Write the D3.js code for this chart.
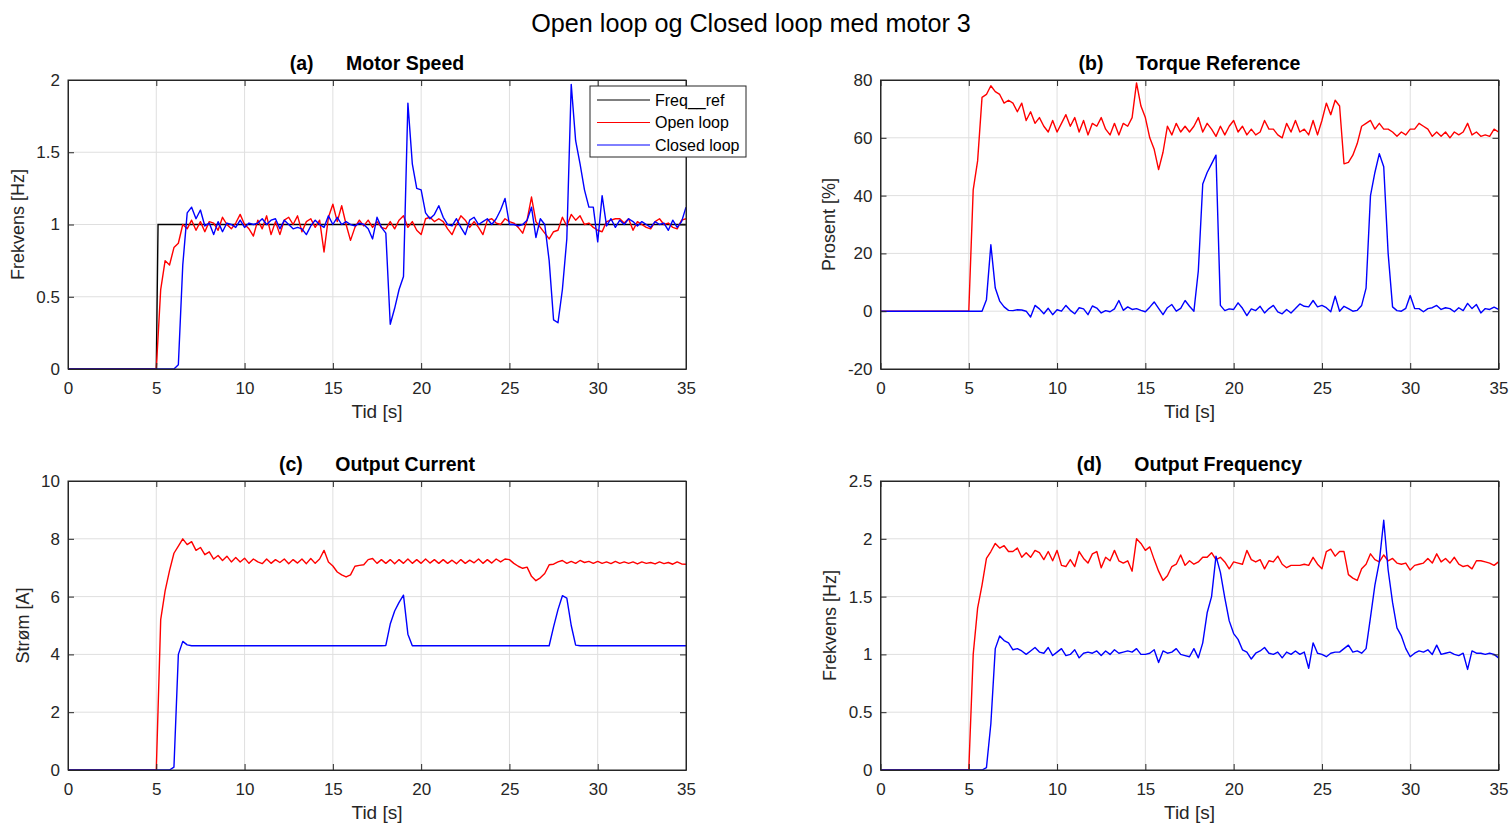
<!DOCTYPE html>
<html>
<head>
<meta charset="utf-8">
<script src="https://cdn.jsdelivr.net/npm/d3@7"></script>
<style>
body { margin: 0; background: #fff; }
text { font-family: "Liberation Sans", Arial, sans-serif; }
</style>
</head>
<body>
<div id="main"></div>
<script>
const Width = 1509, Height = 826;

// sample time, 0.25 s steps from 0 to 35 s
const time = d3.range(141).map(i => i * 0.25);
const xTicks = [0, 5, 10, 15, 20, 25, 30, 35];

// (a) Motor speed
const refTime = [0, 5, 5.1, 35];
const refA = [0, 0, 1, 1];
const openA = [
  0,0,0,0,0,0,0,0,0,0,0,0,0,0,0,0,0,0,0,0,
  0,0.55,0.75,0.72,0.84,0.87,1.0,0.97,1.03,0.96,1.02,0.95,1.02,1.01,0.96,1.05,1.0,0.97,1.01,1.07,
  1.0,0.97,0.92,1.03,0.97,1.06,0.93,1.02,0.93,1.03,1.05,1.0,1.06,0.95,1.02,1.04,0.98,1.03,0.81,1.05,
  1.14,1.02,1.13,1.0,0.89,0.98,1.03,0.99,1.03,0.98,1.02,0.98,0.97,1.02,0.97,1.03,1.06,0.98,1.02,0.96,
  0.93,1.04,1.05,1.02,1.04,1.02,0.97,0.93,1.0,1.06,1.03,0.98,1.02,0.98,0.93,1.03,1.04,1.01,1.0,1.04,
  1.02,1.01,0.98,0.94,1.03,1.19,1.02,0.98,0.94,0.9,0.95,0.96,1.05,0.99,1.07,1.03,1.06,1.0,1.01,0.98,
  0.96,0.95,1.02,1.03,1.04,1.04,1.01,1.04,0.96,1.02,1.0,0.98,0.97,1.02,1.04,1.0,1.01,0.98,0.97,1.03,1.04
];
const closedA = [
  0,0,0,0,0,0,0,0,0,0,0,0,0,0,0,0,0,0,0,0,
  0,0,0,0,0,0.03,0.72,1.08,1.12,1.04,1.1,0.99,1.01,0.93,1.02,0.95,1.01,1.0,0.98,1.03,
  0.98,1.01,1.0,1.01,1.04,1.0,1.03,1.04,0.97,1.03,1.0,0.97,0.98,0.97,0.93,0.99,1.03,1.0,0.98,1.06,
  1.0,1.05,1.0,1.02,1.0,0.99,1.01,1.0,0.97,0.9,1.05,0.98,0.94,0.31,0.42,0.55,0.64,1.84,1.42,1.25,
  1.24,1.08,1.04,1.07,1.13,1.05,1.0,0.99,1.04,0.98,0.93,1.03,1.05,1.0,1.02,1.04,1.0,1.04,1.1,1.18,
  1.0,1.0,0.99,1.0,1.03,1.12,0.91,1.04,1.0,0.75,0.34,0.32,0.55,0.9,1.97,1.58,1.42,1.24,1.12,1.12,
  0.88,1.2,0.99,1.04,0.98,1.03,1.0,1.04,1.02,0.99,1.02,1.0,0.98,1.02,1.0,1.01,0.96,1.03,0.98,1.02,1.12
];

// (b) Torque reference
const openB = [
  0,0,0,0,0,0,0,0,0,0,0,0,0,0,0,0,0,0,0,0,
  0,42,52,74,75,78,76,75,72,73,72,69,72,66,69,65,67,64,62,66,
  62,65,68,64,67,62,66,61,65,64,67,63,61,65,61,65,64,67,79,71,
  67,60,56,49,55,64,61,65,62,64,62,64,67,62,65,63,60.5,64,61,64,
  66,62,64,61,63,61,62,66,63,63,61,60,65,62,66,62,63,61,66,61,
  66,72,68,73,71,51,51.5,54,58,64,65,66,63,65,63,63,62,60.5,62,61,
  63,63,65,64,63,60.5,62,60.5,62,60,62,61,62,65,61,62,60.5,61,60.5,63,62
];
const closedB = [
  0,0,0,0,0,0,0,0,0,0,0,0,0,0,0,0,0,0,0,0,
  0,0,0,0,4,23,8,3.5,1.5,0.3,0.2,0.5,0.4,0,-2,2,0.8,-0.9,1,-1.2,
  0.5,0,2,0.3,-0.9,1.2,0.8,-1.2,1.8,1.1,-0.6,0.2,-0.2,0.8,3.7,0.3,1.5,0.6,0.9,0.3,
  -0.2,1.4,3.2,1,-1.2,1.2,2.3,0,1,3.7,1.7,0,14,44,48,51,54,2,0.2,0.8,
  0.6,2.9,1,-1.5,0.8,0.2,1.7,-0.6,0.9,2,-0.2,-0.9,0.6,-0.6,0.9,2.5,1.7,1.5,3.7,1.5,
  2,1.2,-0.2,5.2,0,1.7,0.9,0,0.3,2,8,40,48,54.5,50,20,1.5,0.2,0,1,
  5.4,0.9,0.9,-0.2,0.9,1.2,2,0.6,1.2,0.9,-0.2,1.2,0.2,2.7,0.9,2.3,-0.6,0.9,0.6,1.4,0.6
];

// (c) Output current
const openC = [
  0,0,0,0,0,0,0,0,0,0,0,0,0,0,0,0,0,0,0,0,
  0,5.2,6.2,6.9,7.5,7.75,8.0,7.8,7.9,7.6,7.7,7.45,7.55,7.3,7.42,7.25,7.4,7.2,7.35,7.2,
  7.33,7.15,7.3,7.2,7.14,7.3,7.15,7.28,7.18,7.3,7.14,7.28,7.16,7.3,7.14,7.32,7.15,7.3,7.6,7.2,
  7.06,6.85,6.75,6.68,6.75,7.05,7.08,7.1,7.28,7.32,7.15,7.28,7.15,7.28,7.14,7.28,7.15,7.3,7.15,7.28,
  7.15,7.3,7.16,7.28,7.15,7.28,7.15,7.26,7.14,7.28,7.15,7.26,7.17,7.3,7.15,7.28,7.16,7.3,7.2,7.3,
  7.28,7.15,7.05,6.98,7.02,6.7,6.55,6.65,6.8,7.1,7.12,7.2,7.25,7.15,7.22,7.15,7.25,7.18,7.22,7.15,
  7.22,7.15,7.2,7.14,7.22,7.15,7.2,7.15,7.2,7.13,7.2,7.15,7.18,7.13,7.2,7.14,7.18,7.12,7.2,7.13,7.12
];
const closedC = [
  0,0,0,0,0,0,0,0,0,0,0,0,0,0,0,0,0,0,0,0,
  0,0,0,0,0.1,4.0,4.45,4.33,4.3,4.3,4.3,4.3,4.3,4.3,4.3,4.3,4.3,4.3,4.3,4.3,
  4.3,4.3,4.3,4.3,4.3,4.3,4.3,4.3,4.3,4.3,4.3,4.3,4.3,4.3,4.3,4.3,4.3,4.3,4.3,4.3,
  4.3,4.3,4.3,4.3,4.3,4.3,4.3,4.3,4.3,4.3,4.3,4.3,4.31,5.05,5.5,5.8,6.05,4.7,4.3,4.3,
  4.3,4.3,4.3,4.3,4.3,4.3,4.3,4.3,4.3,4.3,4.3,4.3,4.3,4.3,4.3,4.3,4.3,4.3,4.3,4.3,
  4.3,4.3,4.3,4.3,4.3,4.3,4.3,4.3,4.3,4.3,4.95,5.55,6.03,5.95,5.0,4.32,4.3,4.3,4.3,4.3,
  4.3,4.3,4.3,4.3,4.3,4.3,4.3,4.3,4.3,4.3,4.3,4.3,4.3,4.3,4.3,4.3,4.3,4.3,4.3,4.3,4.3
];

// (d) Output frequency
const openD = [
  0,0,0,0,0,0,0,0,0,0,0,0,0,0,0,0,0,0,0,0,
  0,1.0,1.4,1.6,1.83,1.89,1.96,1.92,1.94,1.89,1.89,1.92,1.84,1.88,1.84,1.9,1.88,1.82,1.89,1.81,
  1.9,1.77,1.76,1.82,1.76,1.89,1.83,1.79,1.87,1.89,1.75,1.84,1.81,1.9,1.81,1.79,1.81,1.72,2.0,1.96,
  1.9,1.93,1.82,1.72,1.64,1.68,1.76,1.78,1.86,1.77,1.81,1.78,1.8,1.84,1.84,1.88,1.82,1.84,1.8,1.74,
  1.8,1.79,1.78,1.9,1.82,1.8,1.82,1.74,1.81,1.8,1.85,1.78,1.75,1.77,1.77,1.77,1.78,1.77,1.84,1.78,
  1.74,1.89,1.91,1.85,1.89,1.89,1.69,1.66,1.64,1.74,1.78,1.87,1.82,1.8,1.86,1.81,1.83,1.79,1.78,1.79,
  1.73,1.77,1.78,1.79,1.83,1.79,1.87,1.8,1.83,1.79,1.84,1.78,1.76,1.77,1.74,1.81,1.81,1.8,1.79,1.77,1.8
];
const closedD = [
  0,0,0,0,0,0,0,0,0,0,0,0,0,0,0,0,0,0,0,0,
  0,0,0,0,0.02,0.4,1.05,1.16,1.12,1.1,1.04,1.05,1.03,1.0,1.03,1.06,1.02,1.01,1.06,0.99,
  1.02,1.05,0.99,1.0,1.04,0.97,1.01,1.02,1.01,1.03,0.99,1.03,1.0,1.04,1.01,1.02,1.03,1.02,1.05,1.0,
  1.0,1.01,1.04,0.93,1.03,1.01,1.02,1.05,1.0,0.99,0.98,1.05,0.97,1.1,1.36,1.5,1.85,1.71,1.49,1.29,
  1.18,1.13,1.04,1.02,0.96,1.01,1.03,1.06,1.01,1.0,1.02,0.97,1.02,1.0,1.03,1.0,1.02,0.88,1.1,1.01,
  1.0,0.98,1.01,1.02,1.02,1.05,1.08,1.02,1.03,1.01,1.05,1.32,1.6,1.8,2.16,1.73,1.45,1.23,1.16,1.05,
  0.98,1.01,1.03,1.02,1.04,1.0,1.08,1.0,1.01,1.02,1.0,0.99,1.01,0.87,1.03,1.01,1.01,1.0,1.01,1.0,0.97
];

const legendNames = ["Freq__ref", "Open loop", "Closed loop"];
const colors = {ref: "#000000", open: "#ff0000", closed: "#0000ff"};

const panels = [
  {tag: "(a)", name: "Motor Speed", ylabel: "Frekvens [Hz]", left: 68, top: 80, ydom: [0, 2],
   yticks: [0, 0.5, 1, 1.5, 2], open: openA, closed: closedA, ref: refA, labelX: 18},
  {tag: "(b)", name: "Torque Reference", ylabel: "Prosent [%]", left: 880.5, top: 80, ydom: [-20, 80],
   yticks: [-20, 0, 20, 40, 60, 80], open: openB, closed: closedB, labelX: 829},
  {tag: "(c)", name: "Output Current", ylabel: "Strøm [A]", left: 68, top: 481, ydom: [0, 10],
   yticks: [0, 2, 4, 6, 8, 10], open: openC, closed: closedC, labelX: 23},
  {tag: "(d)", name: "Output Frequency", ylabel: "Frekvens [Hz]", left: 880.5, top: 481, ydom: [0, 2.5],
   yticks: [0, 0.5, 1, 1.5, 2, 2.5], open: openD, closed: closedD, labelX: 830}
];
const plotW = 618, plotH = 289;
const axisColor = "#262626", gridColor = "#dfdfdf";

const svg = d3.select("#main")
    .append("svg")
    .attr("width", Width)
    .attr("height", Height)
;

svg.append("text")
    .attr("x", 751).attr("y", 32)
    .attr("text-anchor", "middle")
    .attr("font-size", 25.2)
    .text("Open loop og Closed loop med motor 3");

function drawPanel(p, i) {
    const g = svg.append("g").attr("transform", `translate(${p.left},${p.top})`);
    const x = d3.scaleLinear().domain([0, 35]).range([0, plotW]);
    const y = d3.scaleLinear().domain(p.ydom).range([plotH, 0]);

    // grid
    g.append("g").selectAll("line").data(xTicks.slice(1, -1)).enter().append("line")
        .attr("x1", d => x(d)).attr("x2", d => x(d)).attr("y1", 0).attr("y2", plotH)
        .attr("stroke", gridColor).attr("stroke-width", 1);
    g.append("g").selectAll("line").data(p.yticks.slice(1, -1)).enter().append("line")
        .attr("x1", 0).attr("x2", plotW).attr("y1", d => y(d)).attr("y2", d => y(d))
        .attr("stroke", gridColor).attr("stroke-width", 1);

    g.append("clipPath").attr("id", "clip" + i)
        .append("rect").attr("width", plotW).attr("height", plotH);

    const line = d3.line().x(d => x(d[0])).y(d => y(d[1]));
    const lines = g.append("g").attr("clip-path", `url(#clip${i})`);
    if (p.ref) {
        lines.append("path").datum(d3.zip(refTime, p.ref)).attr("d", line)
            .attr("fill", "none").attr("stroke", colors.ref).attr("stroke-width", 1.4);
    }
    lines.append("path").datum(d3.zip(time, p.open)).attr("d", line)
        .attr("fill", "none").attr("stroke", colors.open).attr("stroke-width", 1.4)
        .attr("stroke-linejoin", "round");
    lines.append("path").datum(d3.zip(time, p.closed)).attr("d", line)
        .attr("fill", "none").attr("stroke", colors.closed).attr("stroke-width", 1.4)
        .attr("stroke-linejoin", "round");

    // axes with inward ticks, mirrored on top and right
    const fmt = d => String(d);
    g.append("g").attr("transform", `translate(0,${plotH})`)
        .call(d3.axisBottom(x).tickValues(xTicks).tickSizeInner(-6).tickSizeOuter(0).tickPadding(13).tickFormat(fmt));
    g.append("g")
        .call(d3.axisTop(x).tickValues(xTicks).tickSizeInner(-6).tickSizeOuter(0).tickFormat(""));
    g.append("g")
        .call(d3.axisLeft(y).tickValues(p.yticks).tickSizeInner(-6).tickSizeOuter(0).tickPadding(8).tickFormat(fmt));
    g.append("g").attr("transform", `translate(${plotW},0)`)
        .call(d3.axisRight(y).tickValues(p.yticks).tickSizeInner(-6).tickSizeOuter(0).tickFormat(""));
    g.selectAll(".domain").attr("stroke", axisColor);
    g.selectAll(".tick line").attr("stroke", axisColor);
    g.selectAll(".tick text").attr("fill", axisColor).attr("font-size", 17)
        .attr("font-family", "Liberation Sans, Arial, sans-serif");
    g.append("rect").attr("width", plotW).attr("height", plotH)
        .attr("fill", "none").attr("stroke", axisColor).attr("stroke-width", 1);

    // labels
    g.append("text").attr("x", plotW / 2).attr("y", 338)
        .attr("text-anchor", "middle").attr("font-size", 19).attr("fill", axisColor)
        .text("Tid [s]");
    svg.append("text")
        .attr("transform", `translate(${p.labelX},${p.top + plotH / 2}) rotate(-90)`)
        .attr("text-anchor", "middle").attr("dy", "0.35em").attr("font-size", 18).attr("fill", axisColor)
        .text(p.ylabel);
    g.append("text").attr("x", plotW / 2).attr("y", -10)
        .attr("text-anchor", "middle").attr("font-size", 19.5).attr("font-weight", "bold")
        .style("white-space", "pre")
        .text(p.tag + "      " + p.name);
}

panels.forEach(drawPanel);

// legend in panel (a)
const leg = svg.append("g").attr("transform", "translate(590,86)");
leg.append("rect").attr("width", 156).attr("height", 71)
    .attr("fill", "#fff").attr("stroke", axisColor).attr("stroke-width", 1);
const legColors = [colors.ref, colors.open, colors.closed];
leg.selectAll("g.item").data(legendNames).enter().append("g").attr("class", "item")
    .attr("transform", (d, i) => `translate(0,${14 + i * 22.5})`)
    .each(function (d, i) {
        const it = d3.select(this);
        it.append("line").attr("x1", 7).attr("x2", 60).attr("stroke", legColors[i]).attr("stroke-width", 1);
        it.append("text").attr("x", 65).attr("dy", "0.35em").attr("font-size", 16).attr("fill", "#000").text(d);
    });
</script>
</body>
</html>
